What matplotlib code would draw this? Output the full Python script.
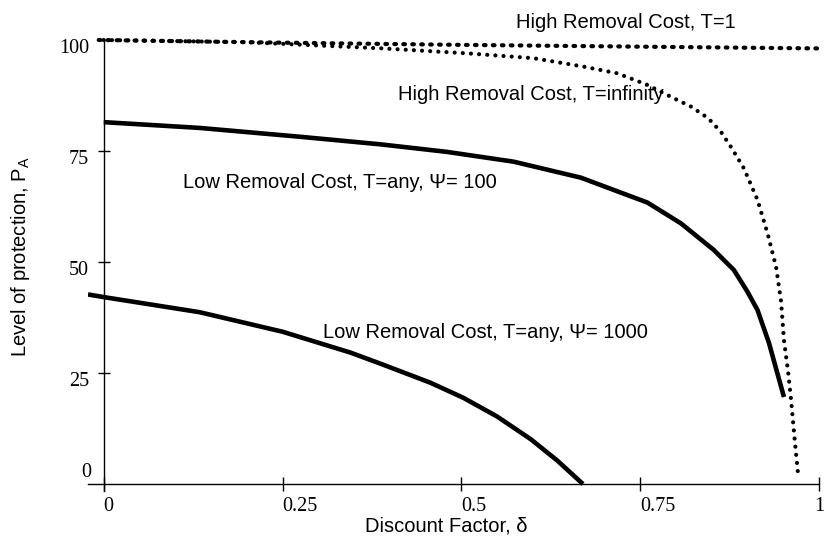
import matplotlib
matplotlib.use("Agg")
import matplotlib.pyplot as plt
import matplotlib.transforms as mtransforms

plt.rcParams['font.family'] = ['Liberation Sans', 'DejaVu Sans']
plt.rcParams['mathtext.fontset'] = 'custom'
plt.rcParams['mathtext.rm'] = 'Liberation Sans'

# discount factor (x) and level of protection (y) for each curve
high_t1_x = [-0.007, 0.25, 0.5, 0.75, 1.0]
high_t1_y = [100.0, 99.4, 98.9, 98.5, 98.1]

high_tinf_x = [0.0, 0.2, 0.391, 0.508, 0.601, 0.671, 0.718, 0.760, 0.788,
               0.821, 0.845, 0.863, 0.877, 0.895, 0.914, 0.928, 0.940,
               0.947, 0.951, 0.957, 0.961, 0.966, 0.971]
high_tinf_y = [100.0, 99.5, 98.1, 97.0, 95.9, 94.0, 92.5, 89.9, 87.6,
               85.0, 82.4, 79.3, 75.9, 71.1, 64.0, 56.5, 48.9,
               41.1, 32.4, 25.0, 18.9, 10.0, 1.8]

low100_x = [0.0, 0.134, 0.275, 0.387, 0.480, 0.573, 0.667, 0.760, 0.807,
            0.853, 0.881, 0.900, 0.914, 0.930, 0.951]
low100_y = [81.5, 80.2, 78.2, 76.5, 74.8, 72.6, 69.0, 63.4, 58.7,
            52.7, 48.2, 43.3, 39.2, 31.8, 19.6]

low1000_x = [-0.022, 0.0, 0.134, 0.25, 0.345, 0.387, 0.457, 0.503, 0.550,
             0.597, 0.634, 0.670]
low1000_y = [42.7, 42.1, 38.7, 34.3, 29.6, 27.1, 22.8, 19.4, 15.2,
             10.1, 5.3, 0.0]

x_ticks = [0, 0.25, 0.5, 0.75, 1]
x_tick_labels = ['0', '0.25', '0.5', '0.75', '1']
y_ticks = [25, 50, 75, 100]
y_tick_labels = ['25', '50', '75', '100']

fig = plt.figure(figsize=(8.27, 5.37), dpi=100)
ax = fig.add_axes([88 / 827, 46.3 / 537, 731 / 827, 450.7 / 537])
ax.set_xlim(-0.022, 1.0)
ax.set_ylim(-1.5, 100)

# axes cross at the origin
for side in ['top', 'right']:
    ax.spines[side].set_visible(False)
ax.spines['left'].set_position(('data', 0))
ax.spines['bottom'].set_position(('data', 0))
for side in ['left', 'bottom']:
    ax.spines[side].set_linewidth(1.0)

ax.plot(high_t1_x, high_t1_y, color='black', lw=3.0,
        linestyle=(0, (0.4, 1.75)), dash_capstyle='round', clip_on=False)
ax.plot(high_tinf_x, high_tinf_y, color='black', lw=3.0,
        linestyle=(0, (0.01, 1.95)), dash_capstyle='round', clip_on=False)
ax.plot(low100_x, low100_y, color='black', lw=3.3, solid_capstyle='butt',
        solid_joinstyle='round')
ax.plot(low1000_x, low1000_y, color='black', lw=3.3, solid_capstyle='butt',
        solid_joinstyle='round')

serif = 'Liberation Serif'
ax.set_xticks(x_ticks)
ax.set_xticklabels(x_tick_labels, family=serif, fontsize=14.5, ha='left')
ax.get_xticklabels()[-1].set_ha('center')
ax.set_yticks(y_ticks)
ax.set_yticklabels(y_tick_labels, family=serif, fontsize=14.5)
ax.tick_params(axis='x', direction='inout', length=10, width=1.0, pad=4)
ax.tick_params(axis='y', direction='inout', length=9, width=1.0, pad=6)

shift = mtransforms.ScaledTranslation(0, -0.06, fig.dpi_scale_trans)
for lab in ax.get_yticklabels():
    lab.set_transform(lab.get_transform() + shift)

ax.text(-0.017, 2.5, '0', family=serif, fontsize=14.5, ha='right', va='center')

labels = [
    (0.577, 102.7, 'High Removal Cost, T=1'),
    (0.412, 86.5, 'High Removal Cost, T=infinity'),
    (0.111, 66.7, 'Low Removal Cost, T=any, \u03a8= 100'),
    (0.307, 32.9, 'Low Removal Cost, T=any, \u03a8= 1000'),
]
for x, y, s in labels:
    ax.text(x, y, s, fontsize=14.5, ha='left', va='baseline')

fig.text(446 / 827, 1 - 526 / 537, 'Discount Factor, \u03b4', fontsize=14.5,
         ha='center', va='center')
fig.text(21 / 827, 1 - 257 / 537, 'Level of protection, $\\mathregular{P_A}$',
         fontsize=14.5, rotation=90, ha='center', va='center')

fig.savefig('out.png', dpi=100)
